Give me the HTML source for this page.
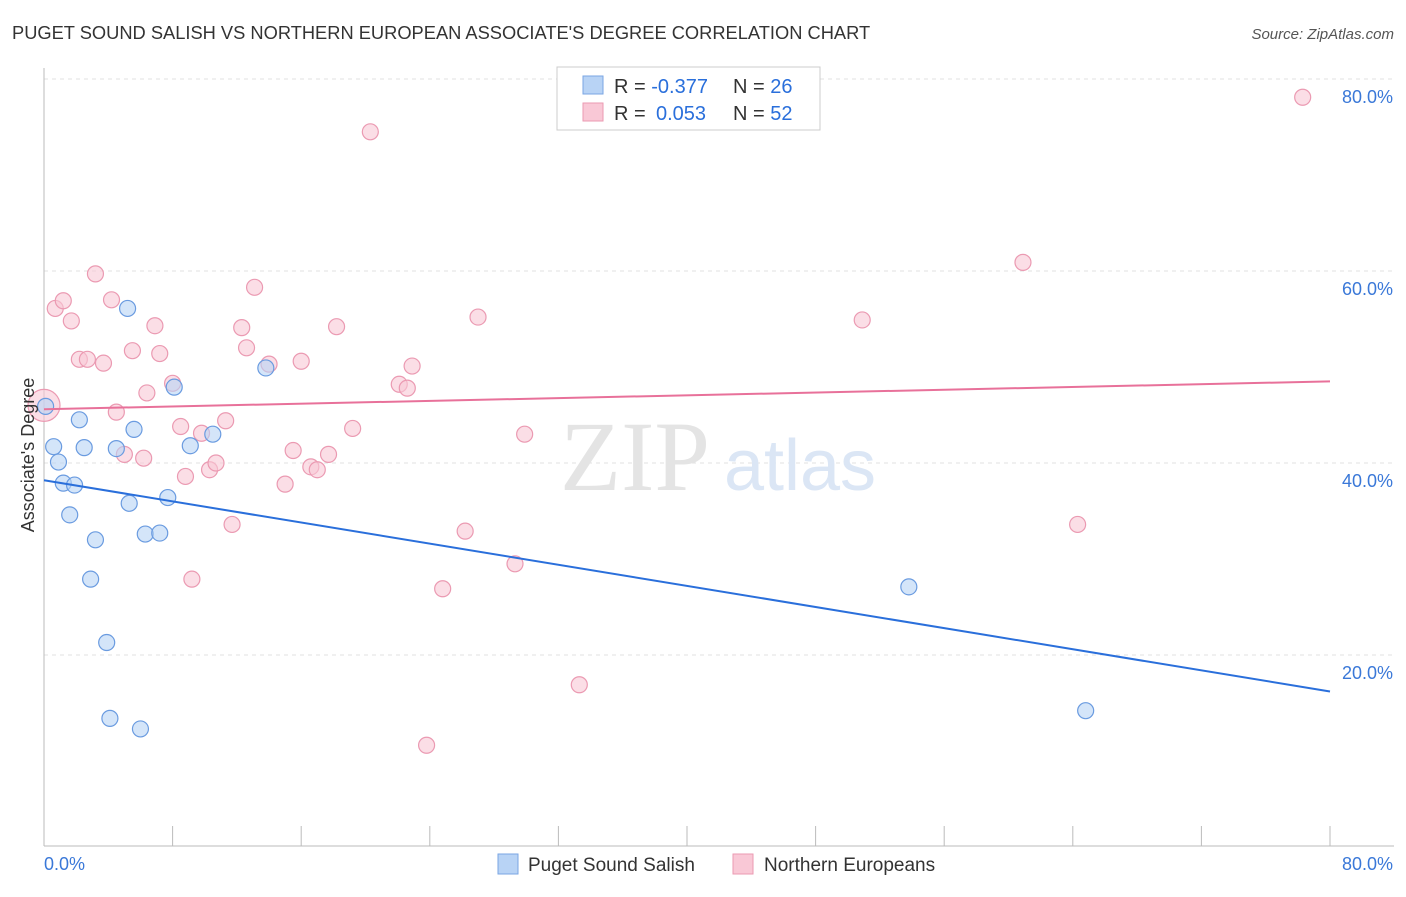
<!DOCTYPE html>
<html><head><meta charset="utf-8"><style>
body{margin:0;background:#fff;font-family:"Liberation Sans",sans-serif;}
svg text{font-family:"Liberation Sans",sans-serif;}
</style></head><body>
<svg id="chart" width="1406" height="892">
<text x="12" y="39" font-size="18.3" fill="#333">PUGET SOUND SALISH VS NORTHERN EUROPEAN ASSOCIATE'S DEGREE CORRELATION CHART</text>
<text x="1394" y="39" font-size="15" fill="#555" text-anchor="end" font-style="italic">Source: ZipAtlas.com</text>
<g id="grid"></g>
<text x="635" y="490" font-size="100" fill="#e4e4e4" font-family="Liberation Serif" text-anchor="middle" style="font-family:'Liberation Serif',serif">ZIP</text>
<text x="800" y="490" font-size="72" fill="#dbe6f5" text-anchor="middle">atlas</text>
<g id="marks"></g>
<text transform="translate(34,455) rotate(-90)" font-size="18" fill="#333" text-anchor="middle">Associate's Degree</text>
<g>
<rect x="557" y="67" width="263" height="63" fill="#fff" stroke="#ccc"/>
<rect x="583" y="76" width="20" height="18" fill="#b8d3f5" stroke="#7aa6e3"/>
<rect x="583" y="103" width="20" height="18" fill="#f9c8d6" stroke="#eb9ab2"/>
<text x="614" y="93" font-size="20" fill="#333">R = <tspan fill="#2a6fdb">-0.377</tspan><tspan x="733">N = </tspan><tspan fill="#2a6fdb">26</tspan></text>
<text x="614" y="120" font-size="20" fill="#333">R = <tspan fill="#2a6fdb" x="656">0.053</tspan><tspan x="733">N = </tspan><tspan fill="#2a6fdb">52</tspan></text>
</g>
<g>
<rect x="498" y="854" width="20" height="20" fill="#b8d3f5" stroke="#7aa6e3"/>
<text x="528" y="871" font-size="19" fill="#333">Puget Sound Salish</text>
<rect x="733" y="854" width="20" height="20" fill="#f9c8d6" stroke="#eb9ab2"/>
<text x="764" y="871" font-size="19" fill="#333">Northern Europeans</text>
</g>
</svg>
<script>
const yTicks=[20,40,60,80];
const yTickLabels=["20.0%","40.0%","60.0%","80.0%"];
const xTickCount=10;
const blueX=[0.1,0.6,0.9,1.2,1.9,1.6,2.2,2.5,3.2,2.9,3.9,4.1,6.0,5.2,5.6,4.5,5.3,6.3,7.2,7.7,8.1,9.1,10.5,13.8,53.8,64.8];
const blueY=[45.9,41.7,40.1,37.9,37.7,34.6,44.5,41.6,32.0,27.9,21.3,13.4,12.3,56.1,43.5,41.5,35.8,32.6,32.7,36.4,47.9,41.8,43.0,49.9,27.1,14.2];
const pinkX=[0,0.7,1.2,1.7,2.2,2.7,3.2,3.7,4.2,4.5,5.0,5.5,6.2,6.4,6.9,7.2,8.0,8.5,8.8,9.2,9.8,10.3,10.7,11.3,11.7,12.3,12.6,13.1,14.0,15.0,15.5,16.0,16.6,17.0,17.7,18.2,19.2,20.3,22.1,22.6,22.9,23.8,24.8,26.2,27.0,29.3,29.9,33.3,50.9,60.9,64.3,78.3];
const pinkY=[46.0,56.1,56.9,54.8,50.8,50.8,59.7,50.4,57.0,45.3,40.9,51.7,40.5,47.3,54.3,51.4,48.3,43.8,38.6,27.9,43.1,39.3,40.0,44.4,33.6,54.1,52.0,58.3,50.3,37.8,41.3,50.6,39.6,39.3,40.9,54.2,43.6,74.5,48.2,47.8,50.1,10.6,26.9,32.9,55.2,29.5,43.0,16.9,54.9,60.9,33.6,78.1];
const blueLine=[38.2,16.2];
const pinkLine=[45.6,48.5];
const NS="http://www.w3.org/2000/svg";
const x0=44,x1=1330,yBase=847,yPer=9.6;
function sx(v){return x0+(v/80)*(x1-x0);}
function sy(v){return yBase-v*yPer;}
function mk(tag,attrs,parent){const e=document.createElementNS(NS,tag);for(const k in attrs)e.setAttribute(k,attrs[k]);parent.appendChild(e);return e;}
const grid=document.getElementById('grid'),marks=document.getElementById('marks');
yTicks.forEach((t,i)=>{
 const l=mk('line',{x1:44,x2:1394,y1:sy(t),y2:sy(t),stroke:'#e2e2e2','stroke-dasharray':'4,4'},grid);
 
 
 const tx=mk('text',{x:1393,y:sy(t)+24,'font-size':18,fill:'#3a78d8','text-anchor':'end'},grid);
 tx.textContent=yTickLabels[i];
 
 
});
const ax=mk('line',{x1:44,x2:44,y1:68,y2:846,stroke:'#bbb'},grid);


const bx=mk('line',{x1:44,x2:1394,y1:846,y2:846,stroke:'#bbb'},grid);


for(let i=0;i<=xTickCount;i++){
 const v=i*80/xTickCount;
 const t=mk('line',{x1:sx(v),x2:sx(v),y1:826,y2:846,stroke:'#bbb'},grid);
 
 
}
const xl0=mk('text',{x:44,y:870,'font-size':18,fill:'#3a78d8'},grid);xl0.textContent='0.0%';


const xl1=mk('text',{x:1393,y:870,'font-size':18,fill:'#3a78d8','text-anchor':'end'},grid);xl1.textContent='80.0%';


pinkX.forEach((v,i)=>{
 const c=mk('circle',{cx:sx(v),cy:sy(pinkY[i]),r:i===0?16:8,fill:'#f9c8d6','fill-opacity':0.6,stroke:'#eb9ab2','stroke-width':1.2},marks);
 
 
});
blueX.forEach((v,i)=>{
 const c=mk('circle',{cx:sx(v),cy:sy(blueY[i]),r:8,fill:'#b8d3f5','fill-opacity':0.6,stroke:'#6a9be0','stroke-width':1.2},marks);
 
 
});
const bl=mk('line',{x1:sx(0),y1:sy(blueLine[0]),x2:sx(80),y2:sy(blueLine[1]),stroke:'#2a6fdb','stroke-width':2},marks);


const pl=mk('line',{x1:sx(0),y1:sy(pinkLine[0]),x2:sx(80),y2:sy(pinkLine[1]),stroke:'#e8719a','stroke-width':2},marks);


</script>
</body></html>
